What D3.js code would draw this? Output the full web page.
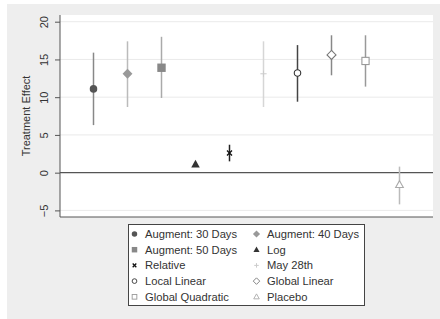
<!DOCTYPE html>
<html>
<head>
<meta charset="utf-8">
<script src="https://cdn.jsdelivr.net/npm/d3@7"></script>
<style>
  body { margin: 0; background: #fff; }
  text { font-family: "Liberation Sans", Arial, sans-serif; }
</style>
</head>
<body>
<svg id="chart" width="440" height="319"></svg>
<script>
// estimates and 95% intervals
const labels = ["Augment: 30 Days", "Augment: 40 Days", "Augment: 50 Days", "Log", "Relative",
  "May 28th", "Local Linear", "Global Linear", "Global Quadratic", "Placebo"];
const estimates = [11.1, 13.1, 13.9, 1.1, 2.6, 13.1, 13.2, 15.6, 14.8, -1.6];
const lower = [6.3, 8.7, 9.9, 1.0, 1.5, 8.7, 9.4, 12.9, 11.4, -4.2];
const upper = [15.9, 17.4, 18.0, 1.2, 3.7, 17.4, 16.9, 18.2, 18.2, 0.8];
const yTicks = [-5, 0, 5, 10, 15, 20];

const shapes = ["circle", "diamond", "square", "triangle", "cross", "plus",
  "ocircle", "odiamond", "osquare", "otriangle"];
const markColor = ["#555", "#999", "#888", "#333", "#111", "#ccc", "#333", "#777", "#999", "#aaa"];
const lineColor = ["#888", "#bbb", "#aaa", "#333", "#222", "#d6d6d6", "#444", "#888", "#999", "#bbb"];

const svg = d3.select("#chart");

svg.append("rect").attr("x", 7).attr("y", 4).attr("width", 433).attr("height", 315)
  .attr("fill", "#eeeeee");

const pLeft = 60, pRight = 433, pTop = 15, pBottom = 217;
svg.append("rect").attr("x", pLeft).attr("y", pTop).attr("width", pRight - pLeft)
  .attr("height", pBottom - pTop).attr("fill", "#fff");

const x = d3.scaleLinear().domain([0, 11]).range([pLeft - 0.5, pRight + 0.5]);
const y = d3.scaleLinear().domain([-5, 20]).range([210.4, 21.7]);

// gridlines
svg.append("g").selectAll("line").data(yTicks.filter(d => d != 0)).join("line")
  .attr("x1", pLeft).attr("x2", pRight)
  .attr("y1", d => y(d)).attr("y2", d => y(d))
  .attr("stroke", "#eaeaea").attr("stroke-width", 1);

// y axis
const yAxis = svg.append("g").attr("transform", `translate(${pLeft},0)`)
  .call(d3.axisLeft(y).tickValues(yTicks).tickSize(5).tickPadding(3));
yAxis.select(".domain").attr("stroke", "#555").attr("d", `M0,${pTop}V${pBottom}`);
yAxis.selectAll(".tick line").attr("stroke", "#555");
yAxis.selectAll(".tick text")
  .attr("transform", "rotate(-90)")
  .attr("x", 0).attr("y", -12).attr("dy", 0)
  .attr("text-anchor", "middle")
  .attr("font-size", 11).attr("fill", "#333");

svg.append("text").attr("transform", `translate(30,${(pTop + pBottom) / 2}) rotate(-90)`)
  .attr("text-anchor", "middle").attr("font-size", 11).attr("fill", "#333")
  .text("Treatment Effect");

// x axis line and zero line
svg.append("line").attr("x1", pLeft).attr("x2", pRight).attr("y1", pBottom).attr("y2", pBottom)
  .attr("stroke", "#555");
svg.append("line").attr("x1", pLeft).attr("x2", pRight).attr("y1", y(0)).attr("y2", y(0))
  .attr("stroke", "#555").attr("stroke-width", 1.2);

function drawMark(g, shape, color, s) {
  const hollow = shape[0] == "o";
  const base = hollow ? shape.slice(1) : shape;
  const fill = hollow ? "#fff" : color;
  const sw = s < 8 ? 0.9 : 1.1;
  if (base == "circle") {
    g.append("circle").attr("r", s * (hollow ? 0.36 : 0.42)).attr("fill", fill)
      .attr("stroke", color).attr("stroke-width", hollow ? sw : 0);
  } else if (base == "diamond") {
    const r = s * (hollow ? 0.5 : 0.55);
    g.append("path").attr("d", `M0,${-r}L${r},0L0,${r}L${-r},0Z`)
      .attr("fill", fill).attr("stroke", color).attr("stroke-width", hollow ? sw : 0);
  } else if (base == "square") {
    const r = s * (hollow ? 0.36 : 0.42);
    g.append("rect").attr("x", -r).attr("y", -r).attr("width", 2 * r).attr("height", 2 * r)
      .attr("fill", fill).attr("stroke", color).attr("stroke-width", hollow ? sw : 0);
  } else if (base == "triangle") {
    const r = s * (hollow ? 0.45 : 0.5);
    g.append("path").attr("d", `M0,${-r}L${r * 0.95},${r * 0.7}L${-r * 0.95},${r * 0.7}Z`)
      .attr("fill", fill).attr("stroke", color).attr("stroke-width", hollow ? sw : 0);
  } else if (base == "cross") {
    const r = s * 0.28;
    g.append("path").attr("d", `M${-r},${-r}L${r},${r}M${-r},${r}L${r},${-r}`)
      .attr("stroke", color).attr("stroke-width", 1.3);
  } else if (base == "plus") {
    const r = s * 0.35;
    g.append("path").attr("d", `M${-r},0H${r}M0,${-r}V${r}`)
      .attr("stroke", color).attr("stroke-width", 1);
  }
}

// confidence intervals and point estimates
labels.forEach((lab, i) => {
  svg.append("line").attr("x1", x(i + 1)).attr("x2", x(i + 1))
    .attr("y1", y(lower[i])).attr("y2", y(upper[i]))
    .attr("stroke", lineColor[i]).attr("stroke-width", 1.5);
  const g = svg.append("g").attr("transform", `translate(${x(i + 1)},${y(estimates[i])})`);
  drawMark(g, shapes[i], markColor[i], i == 2 || i == 8 ? 10 : 9);
});

// legend
const lg = svg.append("g");
lg.append("rect").attr("x", 128.5).attr("y", 224.5).attr("width", 236).attr("height", 81)
  .attr("fill", "#fff").attr("stroke", "#444");
labels.forEach((lab, i) => {
  const col = i % 2, row = Math.floor(i / 2);
  const lx = col == 0 ? 134.5 : 256.5;
  const ly = 234 + row * 15.7;
  const g = lg.append("g").attr("transform", `translate(${lx},${ly})`);
  drawMark(g, shapes[i], markColor[i], 6.5);
  lg.append("text").attr("x", lx + 10.5).attr("y", ly + 4)
    .attr("font-size", 11.2).attr("fill", "#333").text(lab);
});
</script>
</body>
</html>
